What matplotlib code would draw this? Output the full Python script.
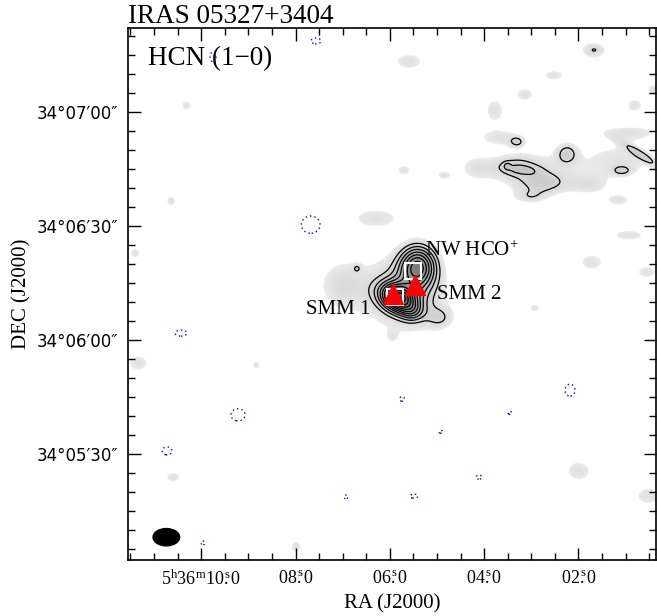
import numpy as np
import matplotlib
matplotlib.use("Agg")
import matplotlib.pyplot as plt
from matplotlib.colors import LinearSegmentedColormap
from matplotlib.patches import Ellipse
from matplotlib.ticker import MultipleLocator, FixedLocator

plt.rcParams['font.family'] = ['Liberation Serif', 'DejaVu Serif']
plt.rcParams['mathtext.fontset'] = 'custom'
plt.rcParams['mathtext.rm'] = 'Liberation Serif'
plt.rcParams['mathtext.it'] = 'Liberation Serif:italic'

# ---------------- data (RA in s after 5h36m, Dec in arcsec after 34d06m00s) ----
# main HCN core
core_ra = [5.402, 5.826, 5.508, 5.572, 5.572]
core_dec = [19.5, 11.1, 7.4, 13.7, 9.2]
core_amp = [7.5, 9.0, 2.2, 2.2, 1.5]
core_sx = [3.4, 3.4, 2.1, 5.8, 10.0]
core_sy = [3.9, 2.4, 1.8, 6.3, 8.0]
core_pa = [0, 25, 0, 0, 0]

# diffuse emission around the core
ext_ra = [6.632, 7.056, 4.935, 6.696]
ext_dec = [14.5, 14.5, 5.8, 18.9]
ext_amp = [1.2, 1.5, 2.0, 1.5]
ext_sx = [9.2, 3.9, 2.6, 0.8]
ext_sy = [6.6, 4.7, 2.1, 0.8]

# north-western clump
nw_ra = [3.027, 1.118, 3.409, 3.514, 3.133, 2.708, 4.193, 3.663, 1.754, 3.027,
         3.302, 2.242, 0.672, 1.075, 0.906]
nw_dec = [44.2, 47.4, 45.8, 45.8, 44.7, 41.1, 45.3, 53.4, 40.8, 37.6,
          52.1, 49.2, 48.7, 44.5, 54.7]
nw_amp = [2.3, 2.1, 1.9, 1.1, 0.8, 2.2, 1.9, 2.0, 2.0, 1.8,
          2.2, 2.8, 2.3, 2.0, 2.0]
nw_sx = [7.9, 8.4, 4.3, 0.66, 3.0, 4.6, 3.2, 5.3, 3.9, 3.2,
         1.4, 2.1, 5.0, 2.0, 6.6]
nw_sy = [4.3, 3.7, 2.0, 0.66, 0.9, 2.2, 2.6, 1.8, 2.1, 1.3,
         1.0, 2.1, 0.9, 1.0, 1.6]
nw_pa = [0, 0, 0, 0, 0, 0, 0, 0, 0, 0, 0, 0, 33, 0, 0]

# weak isolated patches
patch_ra = [10.322, 10.640, 5.593, 1.669, 2.518, 3.133, 3.769, 0.799, 0.397, 5.699,
            4.851, 1.139, 6.314, 11.404, 11.340, 8.838, 0.927, 1.711, 0.545, 2.921,
            5.953, 10.598, 7.989, 1.987, 0.503]
patch_dec = [61.8, 36.6, 73.4, 76.3, 69.7, 64.7, 60.5, 61.8, 65.8, 44.7,
             43.4, 36.8, 32.1, 22.9, -6.1, -6.6, 27.6, 20.5, 17.9, 8.4,
             0.8, -36.1, -54.5, -34.5, -41.1]
patch_amp = [2.3, 2.3, 2.3, 3.05, 2.3, 2.3, 2.3, 2.3, 2.3, 2.3,
             2.3, 2.3, 2.3, 2.3, 2.3, 2.3, 2.3, 2.3, 2.2, 2.3,
             1.1, 2.3, 2.3, 2.3, 2.3]
patch_sx = [1.2, 1.2, 3.4, 2.55, 2.5, 2.2, 2.2, 1.9, 1.55, 1.55,
            1.55, 2.5, 5.3, 1.25, 2.5, 0.95, 3.7, 2.8, 2.5, 1.25,
            1.25, 1.9, 1.25, 3.1, 3.1]
patch_sy = [1.2, 1.2, 1.9, 1.6, 1.25, 1.55, 2.8, 1.55, 1.55, 1.25,
            0.95, 1.25, 2.2, 1.25, 1.9, 0.95, 1.25, 1.9, 1.55, 0.95,
            1.25, 1.25, 1.55, 2.5, 2.2]

# negative noise features
neg_ra = [7.565, 9.750, 7.671, 10.428, 9.220, 10.725, 9.962, 6.929, 5.741, 2.178,
          3.451, 4.914, 4.108, 5.487]
neg_dec = [78.7, 74.5, 30.3, 1.8, -19.7, -29.2, -53.4, -41.3, -15.5, -13.2,
           -19.2, -24.2, -36.1, -41.1]
neg_amp = [-3.3, -3.3, -3.5, -3.3, -3.4, -3.3, -3.15, -3.15, -3.2, -3.3,
           -3.15, -3.15, -3.2, -3.2]
neg_sx = [3.0, 1.8, 4.7, 3.6, 3.7, 3.0, 1.6, 1.6, 1.8, 3.0, 1.6, 1.6, 2.2, 2.9]
neg_sy = [1.8, 3.0, 4.3, 1.8, 3.2, 2.4, 1.6, 1.6, 1.8, 3.6, 1.2, 1.2, 1.5, 1.5]

# sources
smm_ra = [5.932, 5.466]
smm_dec = [12.1, 14.5]
box_ra = [5.890, 5.508]
box_dec = [11.3, 18.2]

beam_ra, beam_dec, beam_maj, beam_min = 10.74, -51.9, 7.0, 4.55

pos_levels = np.arange(3, 14)
neg_levels = [-3]

ra_ticks = [10, 8, 6, 4, 2]
ra_ticklabels = [r'$5^{\mathrm{h}}36^{\mathrm{m}}10\overset{\mathrm{s}}{.}0$',
                 r'$08\overset{\mathrm{s}}{.}0$', r'$06\overset{\mathrm{s}}{.}0$',
                 r'$04\overset{\mathrm{s}}{.}0$', r'$02\overset{\mathrm{s}}{.}0$']
dec_ticks = [-30, 0, 30, 60]
dec_ticklabels = ['34°05′30″', '34°06′00″', '34°06′30″', '34°07′00″']

# ---------------- build map ----------------
COSD = np.cos(np.deg2rad(34.1))
ra_grid = np.linspace(11.7, 0.2, 900)
dec_grid = np.linspace(-60, 84, 900)
X, Y = np.meshgrid(ra_grid, dec_grid)
F = np.zeros_like(X)


def add(ras, decs, amps, sxs, sys_, pas=None):
    global F
    if pas is None:
        pas = [0] * len(ras)
    for r, d, a, sx, sy, pa in zip(ras, decs, amps, sxs, sys_, pas):
        dx = (X - r) * 15 * COSD
        dy = Y - d
        t = np.deg2rad(pa)
        u = dx * np.cos(t) + dy * np.sin(t)
        v = -dx * np.sin(t) + dy * np.cos(t)
        F += a * np.exp(-0.5 * ((u / sx) ** 2 + (v / sy) ** 2))


add(core_ra, core_dec, core_amp, core_sx, core_sy, core_pa)
add(ext_ra, ext_dec, ext_amp, ext_sx, ext_sy)
add(nw_ra, nw_dec, nw_amp, nw_sx, nw_sy, nw_pa)
add(patch_ra, patch_dec, patch_amp, patch_sx, patch_sy)
add(neg_ra, neg_dec, neg_amp, neg_sx, neg_sy)

# ---------------- plot ----------------
fig = plt.figure(figsize=(6.57, 6.16), dpi=100)
ax = fig.add_axes([128 / 657, 56 / 616, 528 / 657, 532 / 616])

cmap = LinearSegmentedColormap.from_list('g', ['#ebebeb', '#505050'])
cmap.set_bad('white')
Fm = np.ma.masked_less(F, 1.6)
ax.imshow(Fm, extent=(ra_grid[0], ra_grid[-1], dec_grid[0], dec_grid[-1]),
          origin='lower', cmap=cmap, vmin=1.6, vmax=13, aspect='auto',
          interpolation='bilinear', zorder=0)
ax.contour(X, Y, F, levels=pos_levels, colors='black', linewidths=0.9, zorder=2)
ax.contour(X, Y, F, levels=neg_levels, colors='blue', linewidths=1.0,
           linestyles=[(0, (1, 2.2))], zorder=2)

ax.plot(box_ra, box_dec, 's', ms=11, mfc='none', mec='white', mew=1.5, zorder=3)
ax.plot(smm_ra, smm_dec, '^', ms=14, color='red', mec='red', zorder=4)

ax.add_patch(Ellipse((beam_ra, beam_dec), beam_maj / (15 * COSD), beam_min,
                     color='black', zorder=3))

ax.text(5.253, 23.5, r'NW HCO$^{+}$', fontsize=15, ha='left', va='center')
ax.text(4.999, 12.0, 'SMM 2', fontsize=15, ha='left', va='center')
ax.text(6.42, 8.0, 'SMM 1', fontsize=15, ha='right', va='center')
ax.text(0.038, 0.942, 'HCN (1\u22120)', transform=ax.transAxes, fontsize=19.5,
        ha='left', va='center')
fig.text(128 / 657, 1 - 23 / 616, 'IRAS 05327+3404', fontsize=19.5,
         ha='left', va='baseline')

ax.set_xlim(11.553, 0.354)
ax.set_ylim(-57.9, 82.1)
ax.xaxis.set_major_locator(FixedLocator(ra_ticks))
ax.set_xticklabels(ra_ticklabels, fontsize=13)
ax.xaxis.set_minor_locator(MultipleLocator(0.5))
ax.yaxis.set_major_locator(FixedLocator(dec_ticks))
ax.set_yticklabels(dec_ticklabels, fontsize=12, family=['DejaVu Sans'])
ax.yaxis.set_minor_locator(MultipleLocator(5))
ax.tick_params(which='both', direction='in', top=True, right=True)
ax.tick_params(which='major', length=9, width=1)
ax.tick_params(which='minor', length=5, width=1)
ax.tick_params(axis='x', pad=7)
ax.tick_params(axis='y', pad=7)
for s in ax.spines.values():
    s.set_linewidth(1.2)

ax.set_xlabel('RA (J2000)', fontsize=15, labelpad=4)
ax.set_ylabel('DEC (J2000)', fontsize=15, labelpad=4)

fig.savefig('out.png', dpi=100)
